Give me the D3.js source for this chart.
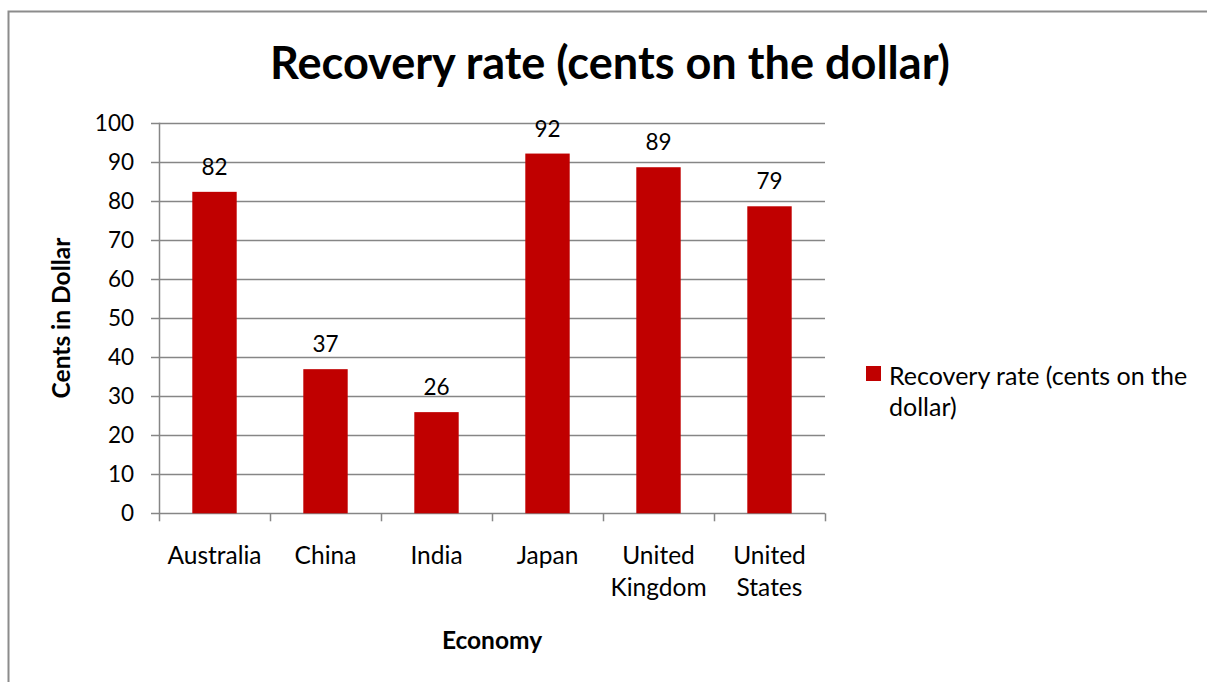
<!DOCTYPE html>
<html>
<head>
<meta charset="utf-8">
<script src="https://cdn.jsdelivr.net/npm/d3@7"></script>
<style>
  html, body { margin: 0; padding: 0; background: #fff; }
  svg { display: block; }
  text { font-family: Lato, "Open Sans", sans-serif; fill: #000; }
</style>
</head>
<body>
<script>
const categories = ["Australia", "China", "India", "Japan", "United Kingdom", "United States"];
const categoryLines = [["Australia"], ["China"], ["India"], ["Japan"], ["United", "Kingdom"], ["United", "States"]];
const values = [82.3, 36.9, 25.9, 92.1, 88.6, 78.6];
const yTicks = [0, 10, 20, 30, 40, 50, 60, 70, 80, 90, 100];
const seriesName = "Recovery rate (cents on the dollar)";
const legendLines = ["Recovery rate (cents on the", "dollar)"];
const chartTitle = "Recovery rate (cents on the dollar)";
const yTitle = "Cents in Dollar";
const xTitle = "Economy";

const W = 1207, H = 682;
const svg = d3.select("body").append("svg").attr("width", W).attr("height", H);

// frame
svg.append("path").attr("d", "M8.5,682 L8.5,11.5 L1207,11.5")
  .attr("fill", "none").attr("stroke", "#8c8c8c").attr("stroke-width", 2);

const plot = { left: 159, right: 825, top: 122.7, bottom: 513.3 };
const x = d3.scaleBand().domain(categories).range([plot.left, plot.right]).paddingInner(0.6).paddingOuter(0.3);
const xb = d3.scaleBand().domain(categories).range([plot.left, plot.right]);
const y = d3.scaleLinear().domain([0, 100]).range([plot.bottom, plot.top]);

// gridlines
svg.append("g").selectAll("line").data(yTicks).join("line")
  .attr("x1", plot.left - 8).attr("x2", plot.right)
  .attr("y1", d => Math.round(y(d)) + 0.5).attr("y2", d => Math.round(y(d)) + 0.5)
  .attr("stroke", "#868686").attr("stroke-width", 1.5);

// y axis line
svg.append("line").attr("x1", plot.left + 0.5).attr("x2", plot.left + 0.5)
  .attr("y1", plot.top).attr("y2", plot.bottom)
  .attr("stroke", "#868686").attr("stroke-width", 1.5);

// x tick marks at band boundaries
const bounds = categories.map(c => xb(c)).concat([plot.right]);
svg.append("g").selectAll("line").data(bounds).join("line")
  .attr("x1", d => Math.round(d) + 0.5).attr("x2", d => Math.round(d) + 0.5)
  .attr("y1", plot.bottom).attr("y2", plot.bottom + 8)
  .attr("stroke", "#868686").attr("stroke-width", 1.5);

// y tick labels
svg.append("g").selectAll("text").data(yTicks).join("text")
  .attr("x", 134).attr("y", d => y(d)).attr("dy", "0.36em")
  .attr("text-anchor", "end").attr("font-size", 22.5)
  .text(d => d);

// bars
svg.append("g").selectAll("rect").data(values).join("rect")
  .attr("x", (d, i) => x(categories[i]))
  .attr("width", x.bandwidth())
  .attr("y", d => y(d))
  .attr("height", d => y(0) - y(d))
  .attr("fill", "#C00000");

// data labels
svg.append("g").selectAll("text").data(values).join("text")
  .attr("x", (d, i) => x(categories[i]) + x.bandwidth() / 2)
  .attr("y", d => y(d) - 17)
  .attr("text-anchor", "middle").attr("font-size", 22.5)
  .text(d => d3.format(".0f")(d));

// category labels
const cat = svg.append("g").selectAll("text").data(categoryLines).join("text")
  .attr("x", (d, i) => xb(categories[i]) + xb.bandwidth() / 2)
  .attr("y", 564)
  .attr("text-anchor", "middle").attr("font-size", 24.5);
cat.selectAll("tspan").data(d => d).join("tspan")
  .attr("x", function () { return this.parentNode.getAttribute("x"); })
  .attr("dy", (d, i) => i === 0 ? 0 : 32)
  .text(d => d);

// axis titles
svg.append("text").attr("x", (plot.left + plot.right) / 2).attr("y", 649)
  .attr("text-anchor", "middle").attr("font-size", 24.5).attr("font-weight", "bold")
  .text(xTitle);
svg.append("text").attr("transform", `translate(70,${(plot.top + plot.bottom) / 2}) rotate(-90)`)
  .attr("text-anchor", "middle").attr("font-size", 24.5).attr("font-weight", "bold")
  .text(yTitle);

// title
const t = svg.append("text").attr("x", 610).attr("y", 79)
  .attr("text-anchor", "middle").attr("font-size", 40).attr("font-weight", "bold")
  .text(chartTitle);
const tw = t.node().getComputedTextLength();
t.attr("font-size", 40 * 680 / tw);

// legend
svg.append("rect").attr("x", 866).attr("y", 366).attr("width", 15).attr("height", 15).attr("fill", "#C00000");
svg.append("text").attr("x", 889).attr("y", 385).attr("font-size", 25)
  .selectAll("tspan").data(legendLines).join("tspan")
  .attr("x", 889).attr("dy", (d, i) => i === 0 ? 0 : 31)
  .text(d => d);
</script>
</body>
</html>
